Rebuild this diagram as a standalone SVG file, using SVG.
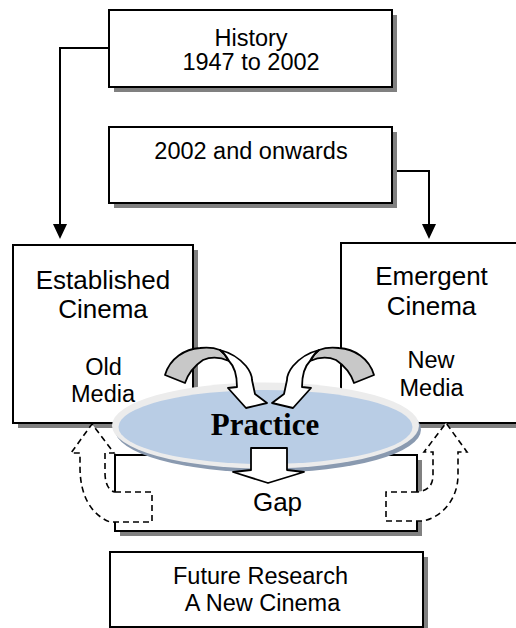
<svg xmlns="http://www.w3.org/2000/svg" width="516" height="628" viewBox="0 0 516 628">
<style>
.box{fill:#fff;stroke:#000;stroke-width:2}
.shadow{fill:#808080}
.t{font-family:"Liberation Sans",Arial,sans-serif;font-size:23.5px;text-anchor:middle;fill:#000}
.big{font-size:26px}
.conn{fill:none;stroke:#000;stroke-width:2}
.head{fill:#000}
.dash{fill:#fff;stroke:#000;stroke-width:1.6;stroke-dasharray:6 4}
.back{fill:#c8c8c8;stroke:#000;stroke-width:1.8;stroke-linejoin:round}
.front{fill:#fff;stroke:#000;stroke-width:1.8;stroke-linejoin:round}
</style>
<rect x="0" y="0" width="516" height="628" fill="#fff"/>

<g id="connectors">
  <polyline class="conn" points="109,48 60,48 60,226"/>
  <polygon class="head" points="53,224 67,224 60,239"/>
  <polyline class="conn" points="392,171 429,171 429,226"/>
  <polygon class="head" points="422,224 436,224 429,239"/>
</g>

<g id="history">
  <rect class="shadow" x="114" y="15" width="283" height="77"/>
  <rect class="box" x="109" y="10" width="283" height="77"/>
  <text class="t" x="251" y="46">History</text>
  <text class="t" x="251" y="70">1947 to 2002</text>
</g>

<g id="onwards">
  <rect class="shadow" x="114" y="132" width="283" height="76"/>
  <rect class="box" x="109" y="127" width="283" height="76"/>
  <text class="t" x="251" y="159">2002 and onwards</text>
</g>

<g id="established">
  <rect class="shadow" x="18" y="250" width="180" height="178"/>
  <rect class="box" x="13" y="245" width="180" height="178"/>
  <text class="t big" x="103" y="289">Established</text>
  <text class="t big" x="103" y="318">Cinema</text>
  <text class="t" x="103.5" y="375">Old</text>
  <text class="t" x="103" y="401.5">Media</text>
</g>

<g id="emergent">
  <rect class="shadow" x="346" y="248" width="200" height="180"/>
  <rect class="box" x="341" y="243" width="200" height="180"/>
  <text class="t big" x="431.5" y="285">Emergent</text>
  <text class="t big" x="431.5" y="315">Cinema</text>
  <text class="t" x="431" y="368">New</text>
  <text class="t" x="431.5" y="395.5">Media</text>
</g>

<g id="gap">
  <rect class="shadow" x="120" y="460" width="302" height="76"/>
  <rect class="box" x="115" y="455" width="302" height="76"/>
  <text class="t" x="277.5" y="511" style="font-size:26px">Gap</text>
</g>

<g id="feedback-arrows">
  <path class="dash" d="M115,492 L152,492 L152,522 L110,522 C92,515 80,497 80,467 L80,453 L71,453 L92,424 L114,453 L105,453 L105,473 C105,484 109,491 115,492 Z"/>
  <path class="dash" d="M417,492 L386,492 L386,521 L422,521 C441,518 458,500 458,475 L458,452 L467,452 L446,423 L424,452 L433,452 L433,475 C433,484 429,491 417,492 Z"/>
</g>

<g id="practice">
  <ellipse cx="268" cy="429.5" rx="153" ry="43" fill="#8a9ab0"/>
  <ellipse cx="265.5" cy="425.5" rx="153.5" ry="43" fill="#ececec"/>
  <ellipse cx="265.5" cy="427" rx="147" ry="37" fill="#b9cde5"/>
  <text x="265" y="435" text-anchor="middle" font-family="'Liberation Serif','Times New Roman',serif" font-weight="bold" font-size="31">Practice</text>
</g>

<g id="curved-arrows">
  <g id="curve-left">
    <path class="back" d="M165,375 C170,358 185,349 200,348 C208,347 215,348 220,350 C224,353 227,357 229,361 C220,357 210,357 203,360 C194,366 188,374 185,383 Z"/>
    <path class="front" d="M220,350 C232,353 240,359 246,366 C250,371 252,376 252,380 L255,394 L267,403 L246,408 L228,388 L237,387 C237,375 234,366 229,361 C227,357 224,353 220,350 Z"/>
  </g>
  <g id="curve-right" transform="translate(539,0) scale(-1,1)">
    <path class="back" d="M165,375 C170,358 185,349 200,348 C208,347 215,348 220,350 C224,353 227,357 229,361 C220,357 210,357 203,360 C194,366 188,374 185,383 Z"/>
    <path class="front" d="M220,350 C232,353 240,359 246,366 C250,371 252,376 252,380 L255,394 L267,403 L246,408 L228,388 L237,387 C237,375 234,366 229,361 C227,357 224,353 220,350 Z"/>
  </g>
  <polygon class="front" points="251,448 287,448 287,470 304,472 268,483 233,472 251,470"/>
</g>

<g id="future">
  <rect class="shadow" x="115" y="557" width="313" height="75"/>
  <rect class="box" x="110" y="552" width="313" height="75"/>
  <text class="t" x="260.5" y="584">Future Research</text>
  <text class="t" x="262.5" y="610.5">A New Cinema</text>
</g>
</svg>
